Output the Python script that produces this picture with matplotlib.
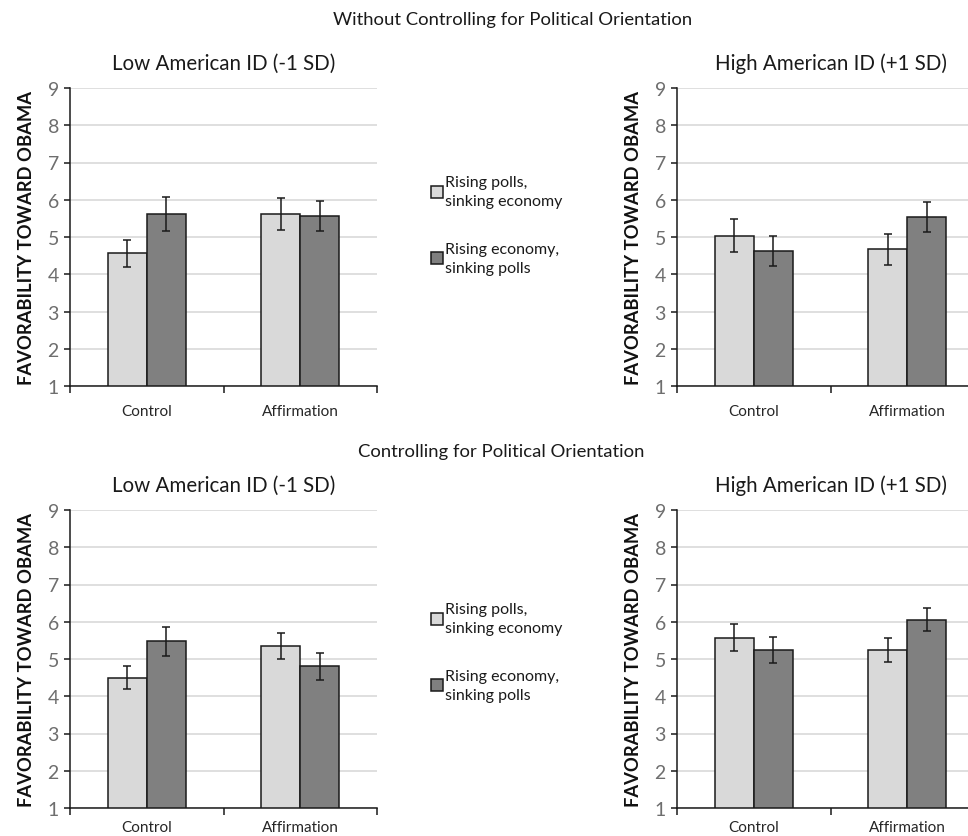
import numpy as np
import matplotlib
matplotlib.use('Agg')
import matplotlib.pyplot as plt
from matplotlib.patches import Patch

plt.rcParams['font.family'] = ['Lato', 'DejaVu Sans']

conditions = ['Control', 'Affirmation']
series = ['Rising polls,\nsinking economy', 'Rising economy,\nsinking polls']
colors = ['#d9d9d9', '#808080']

# without controlling for political orientation
low_raw = [[4.56, 5.62], [5.63, 5.56]]          # [light, dark] for Control, Affirmation
low_raw_err = [[0.37, 0.46], [0.43, 0.41]]
high_raw = [[5.04, 4.62], [4.67, 5.54]]
high_raw_err = [[0.45, 0.41], [0.42, 0.41]]

# controlling for political orientation
low_ctl = [[4.50, 5.47], [5.35, 4.80]]
low_ctl_err = [[0.30, 0.38], [0.36, 0.37]]
high_ctl = [[5.57, 5.24], [5.24, 6.06]]
high_ctl_err = [[0.36, 0.35], [0.33, 0.32]]

W, H = 968, 837
fig = plt.figure(figsize=(W / 100, H / 100), dpi=100, facecolor='white')


def px_axes(x0, y0, x1, y1):
    return fig.add_axes([x0 / W, 1 - y1 / H, (x1 - x0) / W, (y1 - y0) / H])


def panel(ax, vals, errs, title, xpad):
    vals = np.array(vals)
    errs = np.array(errs)
    ind = np.arange(len(conditions)) + 0.5
    width = 0.254
    for j in range(2):
        ax.bar(ind + (j - 0.5) * width, vals[:, j], width, bottom=0,
               color=colors[j], edgecolor='#1a1a1a', linewidth=1.1, zorder=2)
        ax.errorbar(ind + (j - 0.5) * width, vals[:, j], yerr=errs[:, j],
                    fmt='none', ecolor='#1a1a1a', elinewidth=1.1,
                    capsize=3, capthick=1.1, zorder=3)
    ax.set_ylim(1, 9)
    ax.set_xlim(0, 2)
    ax.set_yticks(range(1, 10))
    ax.yaxis.grid(True, color='#d9d9d9', linewidth=1.2, zorder=0)
    ax.set_axisbelow(True)
    ax.set_xticks([0, 1, 2])
    ax.set_xticklabels([])
    ax.set_xticks(ind, minor=True)
    ax.set_xticklabels(conditions, minor=True, fontsize=11, color='#262626')
    ax.tick_params(axis='x', which='minor', length=0, pad=xpad)
    ax.tick_params(axis='x', which='major', length=5, width=1.1, color='#1a1a1a')
    ax.tick_params(axis='y', length=4, width=1.1, color='#1a1a1a',
                   labelsize=14, labelcolor='#6e6e6e', pad=4)
    for s in ['top', 'right']:
        ax.spines[s].set_visible(False)
    for s in ['left', 'bottom']:
        ax.spines[s].set_color('#1a1a1a')
        ax.spines[s].set_linewidth(1.1)
    ax.set_ylabel('FAVORABILITY TOWARD OBAMA', fontsize=13.2, fontweight='bold',
                  color='#111111', labelpad=9)
    ax.set_title(title, fontsize=14.8, color='#1a1a1a', pad=14)


ax1 = px_axes(70, 89, 377, 387)
ax2 = px_axes(677, 89, 984, 387)
ax3 = px_axes(70, 511, 377, 809)
ax4 = px_axes(677, 511, 984, 809)

panel(ax1, low_raw, low_raw_err, 'Low American ID (-1 SD)', 13)
panel(ax2, high_raw, high_raw_err, 'High American ID (+1 SD)', 13)
panel(ax3, low_ctl, low_ctl_err, 'Low American ID (-1 SD)', 9)
panel(ax4, high_ctl, high_ctl_err, 'High American ID (+1 SD)', 9)

fig.text(513 / W, 1 - 20 / H, 'Without Controlling for Political Orientation',
         ha='center', va='center', fontsize=13.3, color='#1a1a1a')
fig.text(501 / W, 1 - 452 / H, 'Controlling for Political Orientation',
         ha='center', va='center', fontsize=13.3, color='#1a1a1a')

handles = [Patch(facecolor=colors[j], edgecolor='#1a1a1a', linewidth=1.1)
           for j in range(2)]
for yc in [226, 653]:
    leg = fig.legend(handles, series, loc='center left',
                     bbox_to_anchor=(423 / W, 1 - yc / H), frameon=False,
                     fontsize=11.5, handlelength=0.75, handleheight=0.75,
                     handletextpad=0.15, labelspacing=2.1, borderpad=0)
    for t in leg.get_texts():
        t.set_linespacing(1.45)
        t.set_color('#1a1a1a')

fig.savefig('out.png', dpi=100, facecolor='white')
